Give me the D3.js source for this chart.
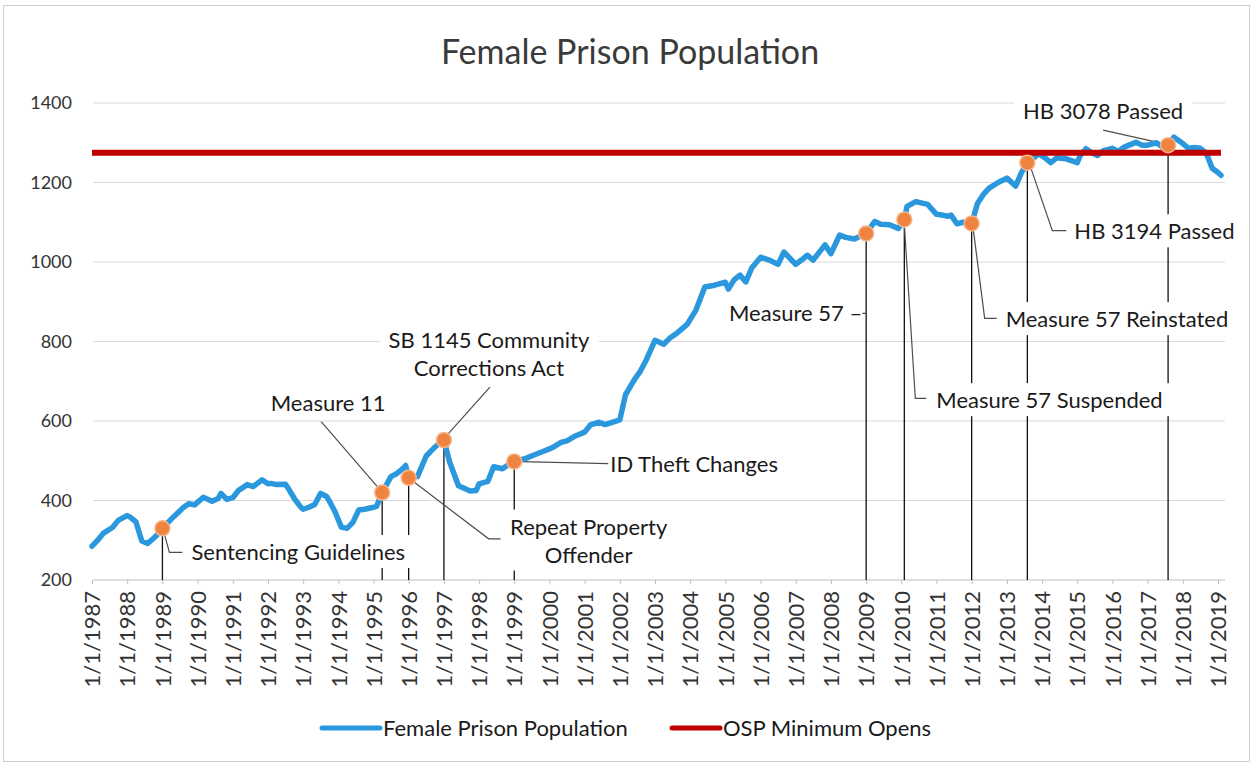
<!DOCTYPE html>
<html>
<head>
<meta charset="utf-8">
<script src="https://cdn.jsdelivr.net/npm/d3@7"></script>
<style>
  body { margin: 0; background: #fff; }
  svg { display: block; font-family: Lato, "Open Sans", sans-serif; }
</style>
</head>
<body>
<svg id="chart" width="1255" height="765"></svg>
<script>
// monthly readings (irregular) of the female prison population
const dates = [
  "1987-01","1987-03","1987-05","1987-08","1987-10","1987-12","1988-01","1988-02","1988-04","1988-06",
  "1988-08","1988-10","1988-11","1989-01","1989-03","1989-05","1989-08","1989-10","1989-12","1990-03",
  "1990-06","1990-08","1990-09","1990-11","1991-01","1991-03","1991-06","1991-08","1991-11","1992-01",
  "1992-02","1992-04","1992-07","1992-08","1992-10","1992-12","1993-01","1993-03","1993-05","1993-07",
  "1993-09","1993-10","1993-12","1994-02","1994-04","1994-06","1994-08","1994-10","1995-01","1995-02",
  "1995-04","1995-07","1995-09","1995-11","1995-12","1996-01","1996-04","1996-07","1996-10","1997-01",
  "1997-03","1997-06","1997-10","1997-12","1998-01","1998-04","1998-06","1998-09","1998-11","1999-01",
  "1999-05","1999-08","1999-11","2000-02","2000-05","2000-07","2000-10","2001-01","2001-03","2001-06",
  "2001-08","2002-01","2002-03","2002-06","2002-08","2002-10","2003-01","2003-04","2003-06","2003-08",
  "2003-12","2004-03","2004-06","2004-09","2005-01","2005-02","2005-04","2005-06","2005-08","2005-10",
  "2006-01","2006-04","2006-07","2006-09","2007-01","2007-03","2007-05","2007-07","2007-11","2008-01",
  "2008-04","2008-06","2008-09","2009-01","2009-04","2009-06","2009-09","2009-12","2010-02","2010-03",
  "2010-06","2010-10","2011-01","2011-03","2011-05","2011-06","2011-08","2011-10","2012-01","2012-03",
  "2012-05","2012-07","2012-10","2013-01","2013-04","2013-06","2013-08","2013-12","2014-02","2014-04",
  "2014-06","2014-09","2015-01","2015-02","2015-04","2015-06","2015-08","2015-10","2016-01","2016-03",
  "2016-05","2016-09","2016-11","2017-01","2017-04","2017-06","2017-08","2017-10","2018-01","2018-03",
  "2018-05","2018-07","2018-09","2018-11","2019-01","2019-02"
];
const population = [
  285, 300, 318, 332, 350, 358, 362, 358, 346, 298,
  292, 305, 312, 330, 345, 360, 381, 392, 389, 408,
  398, 405, 418, 403, 407, 425, 440, 435, 452, 442,
  443, 440, 441, 430, 405, 385, 378, 383, 390, 418,
  410, 398, 370, 333, 330, 345, 376, 378, 383, 385,
  420, 460, 468, 480, 488, 457, 460, 512, 535, 552,
  497, 437, 424, 425, 442, 448, 485, 480, 490, 498,
  506, 515, 524, 533, 546, 550, 563, 572, 590, 597,
  591, 603, 666, 704, 725, 753, 803, 793, 808, 818,
  843, 879, 937, 941, 949, 932, 955, 967, 950, 985,
  1012, 1005, 994, 1025, 994, 1005, 1017, 1005, 1043, 1021,
  1068, 1062, 1058, 1072, 1102, 1095, 1094, 1084, 1107, 1140,
  1152, 1145, 1120, 1118, 1115, 1118, 1096, 1100, 1097, 1147,
  1170, 1186, 1200, 1211, 1191, 1225, 1250, 1272, 1262, 1250,
  1262, 1260, 1250, 1268, 1285, 1275, 1268, 1280, 1286, 1278,
  1289, 1301, 1294, 1294, 1300, 1290, 1294, 1314, 1298, 1286,
  1288, 1286, 1274, 1236, 1225, 1218
];
const ospMinimum = 1275;
const yTicks = [200, 400, 600, 800, 1000, 1200, 1400];

const eventDates = ["1989-01","1995-04","1996-01","1997-01","1999-01","2009-01","2010-02","2012-01","2013-08","2017-08"];
const eventNames = [
  ["Sentencing Guidelines"],
  ["Measure 11"],
  ["Repeat Property", "Offender"],
  ["SB 1145 Community", "Corrections Act"],
  ["ID Theft Changes"],
  ["Measure 57 \u2013"],
  ["Measure 57 Suspended"],
  ["Measure 57 Reinstated"],
  ["HB 3194 Passed"],
  ["HB 3078 Passed"]
];

// label placement relative to each marker, in pixels
const eventLayout = [
  {anchor: "start",  dx: 29,  dy: 24,  box: true,  leader: [[2, 6], [7, 24], [20, 24]]},
  {anchor: "middle", dx: -54, dy: -89, box: false, leader: [[-61, -71], [-4, -5]]},
  {anchor: "middle", dx: 180, dy: 63,  box: true,  leader: [[5, 4], [80, 61], [92, 61]]},
  {anchor: "middle", dx: 45,  dy: -86, box: true,  leader: [[4, -6], [46, -53]]},
  {anchor: "start",  dx: 96,  dy: 3,   box: true,  leader: [[7, 0], [94, 2]]},
  {anchor: "end",    dx: -4,  dy: 80,  box: false, leader: [[-4, 80], [0, 80]]},
  {anchor: "start",  dx: 32,  dy: 181, box: true,  leader: [[0, 5], [11, 179], [22, 179]]},
  {anchor: "start",  dx: 34,  dy: 96,  box: true,  leader: [[1, 1], [13, 95], [25, 95]]},
  {anchor: "start",  dx: 47,  dy: 69,  box: true,  leader: [[2, 1], [25, 68], [39, 68]]},
  {anchor: "middle", dx: -65, dy: -34, box: true,  leader: [[-65, -15], [-7, -2]]}
];

const parse = d3.timeParse("%Y-%m");
const series = dates.map((d, i) => ({date: parse(d), value: population[i]}));
const byDate = new Map(series.map(d => [+d.date, d.value]));

const svg = d3.select("#chart");

const x = d3.scaleTime()
  .domain([new Date(1987, 0, 1), new Date(2019, 0, 1)])
  .range([92, 1218]);
const y = d3.scaleLinear()
  .domain([200, 1400])
  .range([580, 103]);

const plotLeft = 93, plotRight = 1225;

// frame
svg.append("rect")
  .attr("x", 3.5).attr("y", 5.5).attr("width", 1246).attr("height", 756)
  .attr("fill", "none").attr("stroke", "#cfcfcf");

// title
svg.append("text")
  .attr("x", 630).attr("y", 52).attr("dy", "0.35em")
  .attr("text-anchor", "middle")
  .attr("font-size", 34)
  .attr("fill", "#3a3a3a")
  .text("Female Prison Population");

// gridlines
svg.append("g")
  .selectAll("line")
  .data(yTicks.slice(1))
  .join("line")
  .attr("x1", plotLeft).attr("x2", plotRight)
  .attr("y1", d => y(d)).attr("y2", d => y(d))
  .attr("stroke", "#d9d9d9");

// y labels
svg.append("g")
  .selectAll("text")
  .data(yTicks)
  .join("text")
  .attr("x", 72).attr("y", d => y(d)).attr("dy", "0.35em")
  .attr("text-anchor", "end")
  .attr("font-size", 18)
  .attr("fill", "#333")
  .text(d => d);

// x axis
const xAxis = svg.append("g")
  .attr("transform", `translate(0,${y(200)})`)
  .call(d3.axisBottom(x)
    .tickValues(d3.timeYear.range(new Date(1987, 0, 1), new Date(2019, 1, 1)))
    .tickFormat(d3.timeFormat("%-m/%-d/%Y"))
    .tickSize(4));
xAxis.select(".domain").remove();
xAxis.selectAll(".tick line").attr("stroke", "#bfbfbf");
xAxis.selectAll(".tick text")
  .attr("transform", "rotate(-90)")
  .attr("text-anchor", "end")
  .attr("x", -11).attr("y", 0).attr("dy", "0.35em")
  .attr("font-family", "Lato, 'Open Sans', sans-serif")
  .attr("font-size", 22)
  .attr("fill", "#333");
svg.append("line")
  .attr("x1", plotLeft).attr("x2", plotRight)
  .attr("y1", y(200)).attr("y2", y(200))
  .attr("stroke", "#bfbfbf");

// events
const events = eventDates.map((d, i) => {
  const date = parse(d);
  return {date, value: byDate.get(+date), lines: eventNames[i], layout: eventLayout[i]};
});

svg.append("g")
  .selectAll("line")
  .data(events)
  .join("line")
  .attr("x1", d => x(d.date)).attr("x2", d => x(d.date))
  .attr("y1", d => y(d.value)).attr("y2", y(200))
  .attr("stroke", "#111")
  .attr("stroke-width", 1.3);

const labels = svg.append("g");
events.forEach(ev => {
  const mx = x(ev.date), my = y(ev.value);
  const L = ev.layout;
  const g = labels.append("g");
  const text = g.append("text")
    .attr("text-anchor", L.anchor)
    .attr("font-size", 22)
    .attr("fill", "#1a1a1a");
  const n = ev.lines.length;
  ev.lines.forEach((line, k) => {
    text.append("tspan")
      .attr("x", mx + L.dx)
      .attr("y", my + L.dy + (k - (n - 1) / 2) * 28)
      .attr("dy", "0.35em")
      .text(line);
  });
  if (L.box) {
    const b = text.node().getBBox();
    g.insert("rect", "text")
      .attr("x", b.x - 9).attr("y", b.y - 3)
      .attr("width", b.width + 18).attr("height", b.height + 6)
      .attr("fill", "#fff");
  }
  g.append("path")
    .attr("d", d3.line()(L.leader.map(p => [mx + p[0], my + p[1]])))
    .attr("fill", "none")
    .attr("stroke", "#4d4d4d")
    .attr("stroke-width", 1.2);
});

// series
svg.append("path")
  .datum(series)
  .attr("fill", "none")
  .attr("stroke", "#2b98dd")
  .attr("stroke-width", 5.5)
  .attr("stroke-linejoin", "round")
  .attr("stroke-linecap", "round")
  .attr("d", d3.line().x(d => x(d.date)).y(d => y(d.value)));

const capacityLine = [series[0].date, series[series.length - 1].date].map(d => ({date: d, value: ospMinimum}));
svg.append("path")
  .datum(capacityLine)
  .attr("fill", "none")
  .attr("stroke", "#c00000")
  .attr("stroke-width", 6)
  .attr("d", d3.line().x(d => x(d.date)).y(d => y(d.value)));

svg.append("g")
  .selectAll("circle")
  .data(events)
  .join("circle")
  .attr("cx", d => x(d.date))
  .attr("cy", d => y(d.value))
  .attr("r", 7.5)
  .attr("fill", "#ee8440")
  .attr("stroke", "#f5b68c")
  .attr("stroke-width", 1.5);

// legend
const legend = svg.append("g").attr("font-size", 22).attr("fill", "#1a1a1a");
const legendItems = [
  {name: "Female Prison Population", color: "#2b98dd", x: 322, w: 58},
  {name: "OSP Minimum Opens", color: "#c00000", x: 672, w: 48}
];
legendItems.forEach(it => {
  legend.append("line")
    .attr("x1", it.x).attr("x2", it.x + it.w)
    .attr("y1", 728).attr("y2", 728)
    .attr("stroke", it.color).attr("stroke-width", 5)
    .attr("stroke-linecap", "round");
  legend.append("text")
    .attr("x", it.x + it.w + 3).attr("y", 728).attr("dy", "0.35em")
    .text(it.name);
});
</script>
</body>
</html>
